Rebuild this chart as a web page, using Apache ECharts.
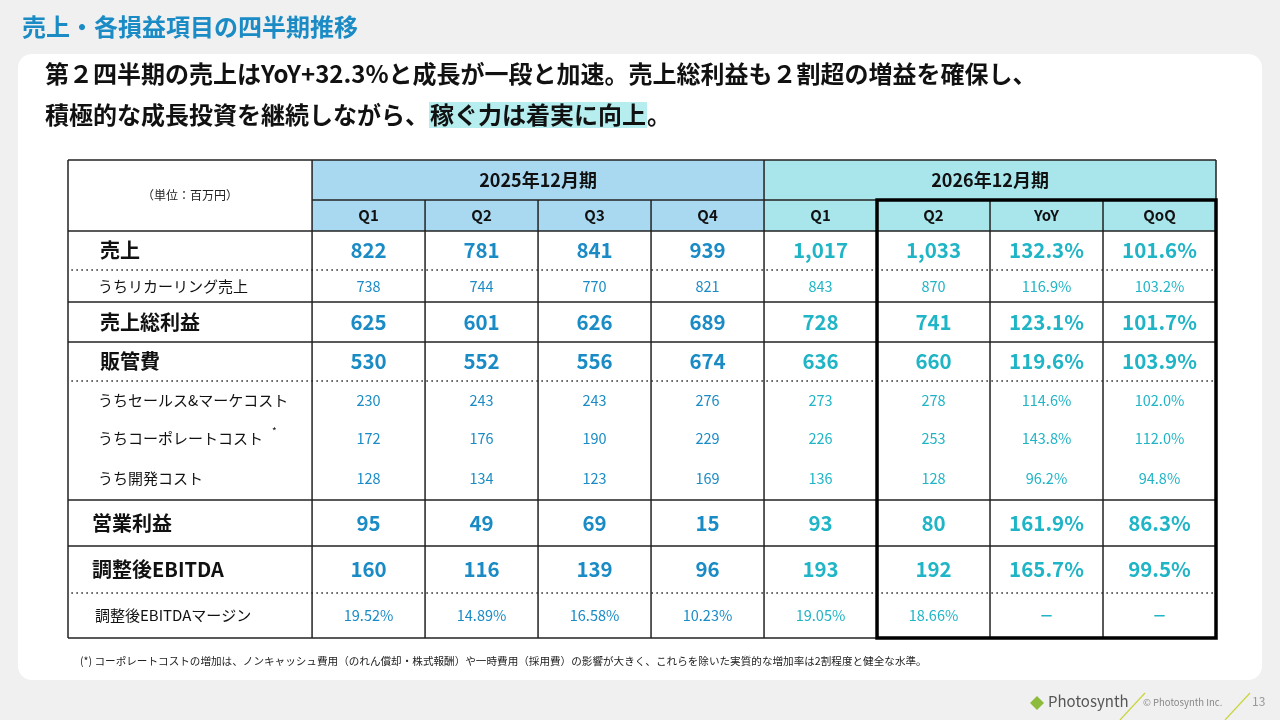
<!DOCTYPE html>
<html><head><meta charset="utf-8">
<script src="https://cdn.jsdelivr.net/npm/echarts@6/dist/echarts.min.js"></script>
<style>html,body{margin:0;padding:0;background:#f0f0f0}#c{width:1280px;height:720px}</style>
</head><body><div id="c"></div>
<script>
const yearGroups = ['2025年12月期', '2026年12月期'];
const colHeaders = ['Q1','Q2','Q3','Q4','Q1','Q2','YoY','QoQ'];
const rowLabels = ['売上','うちリカーリング売上','売上総利益','販管費','うちセールス&マーケコスト','うちコーポレートコスト','うち開発コスト','営業利益','調整後EBITDA','調整後EBITDAマージン'];
const rowBold = [true,false,true,true,false,false,false,true,true,false];
const values = [
 ['822','781','841','939','1,017','1,033','132.3%','101.6%'],
 ['738','744','770','821','843','870','116.9%','103.2%'],
 ['625','601','626','689','728','741','123.1%','101.7%'],
 ['530','552','556','674','636','660','119.6%','103.9%'],
 ['230','243','243','276','273','278','114.6%','102.0%'],
 ['172','176','190','229','226','253','143.8%','112.0%'],
 ['128','134','123','169','136','128','96.2%','94.8%'],
 ['95','49','69','15','93','80','161.9%','86.3%'],
 ['160','116','139','96','193','192','165.7%','99.5%'],
 ['19.52%','14.89%','16.58%','10.23%','19.05%','18.66%','－','－']
];
// layout
const labelW = 2.16;
const headerH = [40, 31];
const rowH = [39,32,40,39,39,37,43,46,47,45];
const yE = [0]; headerH.concat(rowH).forEach(h => yE.push(yE[yE.length-1] + h));
const xMax = labelW + 8;
const cells = [];
cells.push({x0:0,x1:labelW,y0:0,y1:yE[2],t:'（単位：百万円）',fill:'#fff',color:'#222',size:12,w:'normal',align:'center'});
cells.push({x0:labelW,x1:labelW+4,y0:0,y1:yE[1],t:yearGroups[0],fill:'#a9d9f1',color:'#111',size:18,w:'bold',align:'center'});
cells.push({x0:labelW+4,x1:xMax,y0:0,y1:yE[1],t:yearGroups[1],fill:'#a8e6ec',color:'#111',size:18,w:'bold',align:'center'});
colHeaders.forEach((h,i)=>cells.push({x0:labelW+i,x1:labelW+i+1,y0:yE[1],y1:yE[2],t:h,fill:i<4?'#a9d9f1':'#a8e6ec',color:'#111',size:15,w:'bold',align:'center'}));
rowLabels.forEach((l,r)=>{
  const y0=yE[r+2], y1=yE[r+3], b=rowBold[r];
  cells.push({x0:0,x1:labelW,y0,y1,t:l,fill:'#fff',color:'#111',size:b?20:15,w:b?'bold':'normal',align:'left',pad:b?(r>=7?24:32):(r===9?27:30),sup:r===5});
  values[r].forEach((v,i)=>cells.push({x0:labelW+i,x1:labelW+i+1,y0,y1,t:v,fill:'#fff',color:i<4?'#1a8bc5':'#20b5c6',size:b?20.5:14.5,w:(b||v==='－')?'bold':'normal',align:'center'}));
});
const hLines = [
 [0,0,xMax,'s'],[labelW,yE[1],xMax,'s'],[0,yE[2],xMax,'s'],
 [0.03,yE[3],xMax,'d'],[0,yE[4],xMax,'s'],[0,yE[5],xMax,'s'],[0.03,yE[6],xMax,'d'],
 [0,yE[9],xMax,'s'],[0,yE[10],xMax,'s'],[0.03,yE[11],xMax,'d'],[0,yE[12],xMax,'s']
];
const vLines = [[0,0],[labelW,0],[xMax,0]];
for(let i=1;i<8;i++) vLines.push([labelW+i, i===4?0:yE[1]]);

const chart = echarts.init(document.getElementById('c'));
const F = '"Noto Sans CJK JP","Noto Sans",sans-serif';
chart.setOption({
  animation:false,
  textStyle:{fontFamily:F},
  graphic:[
    {type:'rect',shape:{x:18,y:54,width:1244,height:626,r:14},style:{fill:'#fff'},z:-10},
    {type:'text',left:22,top:15,style:{text:'売上・各損益項目の四半期推移',fill:'#1a8bc5',font:'bold 24px '+F}},
    {type:'text',left:45,top:62,style:{text:'第２四半期の売上はYoY+32.3%と成長が一段と加速。売上総利益も２割超の増益を確保し、',fill:'#111',font:'bold 24px '+F}},
    {type:'text',left:45,top:102,style:{rich:{a:{fill:'#111',font:'bold 24px '+F},h:{fill:'#111',font:'bold 24px '+F,backgroundColor:'#b6eef0',padding:[1,1]}},text:'{a|積極的な成長投資を継続しながら、}{h|稼ぐ力は着実に向上}{a|。}'}},
    {type:'text',left:80,top:656,style:{text:'(*) コーポレートコストの増加は、ノンキャッシュ費用（のれん償却・株式報酬）や一時費用（採用費）の影響が大きく、これらを除いた実質的な増加率は2割程度と健全な水準。',fill:'#222',font:'10.6px '+F}},
    {type:'polygon',shape:{points:[[1037,696],[1044,703],[1037,710],[1030,703]]},style:{fill:'#8dbb3c'}},
    {type:'text',left:1048,top:694,style:{text:'Photosynth',fill:'#555',font:'15px '+F}},
    {type:'line',shape:{x1:1120,y1:720,x2:1145,y2:693},style:{stroke:'#c8d43c',lineWidth:1.2}},
    {type:'text',left:1143,top:698,style:{text:'© Photosynth Inc.',fill:'#888',font:'9.5px '+F}},
    {type:'line',shape:{x1:1225,y1:720,x2:1250,y2:693},style:{stroke:'#c8d43c',lineWidth:1.2}},
    {type:'text',left:1252,top:695,style:{text:'13',fill:'#999',font:'12px '+F}}
  ],
  grid:{left:68,right:64,top:160,bottom:82},
  xAxis:{type:'value',min:0,max:xMax,show:false},
  yAxis:{type:'value',min:0,max:yE[yE.length-1],inverse:true,show:false},
  series:[
    {type:'custom',data:cells.map((c,i)=>[c.x0,c.y0,c.x1,c.y1,i]),encode:{x:[0,2],y:[1,3]},
     renderItem:(p,api)=>{
       const c=cells[api.value(4)];
       const a=api.coord([c.x0,c.y0]), b=api.coord([c.x1,c.y1]);
       const tx = c.align==='left'? a[0]+c.pad : (a[0]+b[0])/2;
       const ch=[{type:'rect',shape:{x:a[0],y:a[1],width:b[0]-a[0],height:b[1]-a[1]},style:{fill:c.fill}},
         {type:'text',style:{x:tx,y:(a[1]+b[1])/2,text:c.t,fill:c.color,font:c.w+' '+c.size+'px '+F,align:c.align,verticalAlign:'middle'}}];
       if(c.sup) ch.push({type:'text',style:{x:tx+174,y:(a[1]+b[1])/2-7,text:'*',fill:'#111',font:'10px '+F,align:'left',verticalAlign:'middle'}});
       return {type:'group',children:ch};
     }},
    {type:'custom',data:hLines.map(l=>[l[0],l[1],l[2],l[3]==='d'?1:0]),encode:{x:[0,2],y:1},z:3,
     renderItem:(p,api)=>{
       const a=api.coord([api.value(0),api.value(1)]), b=api.coord([api.value(2),api.value(1)]);
       const d=api.value(3)===1;
       return {type:'line',shape:{x1:a[0],y1:a[1],x2:b[0],y2:b[1]},style:{stroke:'#222',lineWidth:1.5,lineDash:d?[1.5,3.5]:null}};
     }},
    {type:'custom',data:vLines.map(l=>[l[0],l[1],yE[yE.length-1]]),encode:{x:0,y:[1,2]},z:4,
     renderItem:(p,api)=>{
       const a=api.coord([api.value(0),api.value(1)]), b=api.coord([api.value(0),api.value(2)]);
       return {type:'line',shape:{x1:a[0],y1:a[1],x2:b[0],y2:b[1]},style:{stroke:'#222',lineWidth:1.5}};
     }},
    {type:'custom',data:[[labelW+5,yE[1],xMax,yE[yE.length-1]]],encode:{x:[0,2],y:[1,3]},z:5,
     renderItem:(p,api)=>{
       const a=api.coord([api.value(0),api.value(1)]), b=api.coord([api.value(2),api.value(3)]);
       return {type:'rect',shape:{x:a[0],y:a[1],width:b[0]-a[0],height:b[1]-a[1]},style:{fill:'none',stroke:'#000',lineWidth:3.5}};
     }}
  ]
});
</script></body></html>
